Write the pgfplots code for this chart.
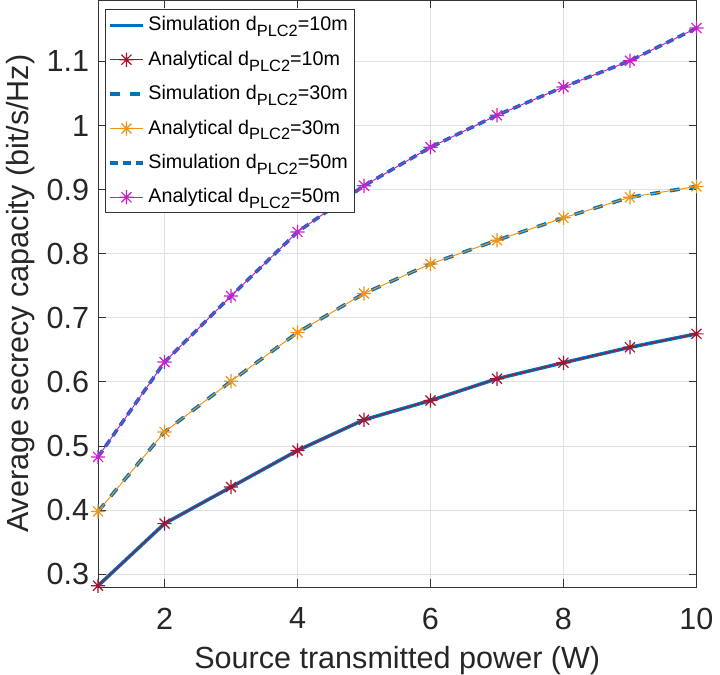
\documentclass[border=0pt]{standalone}
\usepackage{pgfplots}
\pgfplotsset{compat=1.18}
\usepackage{fontspec}
\setmainfont{Liberation Sans}
\definecolor{mblue}{rgb}{0,0.447,0.741}
\definecolor{mred}{rgb}{0.635,0.078,0.184}
\definecolor{morange}{rgb}{0.93,0.58,0.10}
\definecolor{mmag}{rgb}{0.80,0.12,0.80}
\newcommand{\dsub}{d\raisebox{-0.55ex}{\fontsize{8.3}{10}\selectfont PLC2}}
\pgfdeclareplotmark{mstar}{%
  \pgfpathmoveto{\pgfqpoint{-\pgfplotmarksize}{0pt}}%
  \pgfpathlineto{\pgfqpoint{\pgfplotmarksize}{0pt}}%
  \pgfpathmoveto{\pgfqpoint{0pt}{-\pgfplotmarksize}}%
  \pgfpathlineto{\pgfqpoint{0pt}{\pgfplotmarksize}}%
  \pgfpathmoveto{\pgfqpoint{-0.7071\pgfplotmarksize}{-0.7071\pgfplotmarksize}}%
  \pgfpathlineto{\pgfqpoint{0.7071\pgfplotmarksize}{0.7071\pgfplotmarksize}}%
  \pgfpathmoveto{\pgfqpoint{-0.7071\pgfplotmarksize}{0.7071\pgfplotmarksize}}%
  \pgfpathlineto{\pgfqpoint{0.7071\pgfplotmarksize}{-0.7071\pgfplotmarksize}}%
  \pgfusepathqstroke}
\pgfplotstableread{
x a b c
1 0.282 0.398 0.483
2 0.379 0.522 0.631
3 0.436 0.601 0.734
4 0.493 0.677 0.834
5 0.541 0.738 0.906
6 0.571 0.784 0.966
7 0.605 0.821 1.016
8 0.630 0.856 1.060
9 0.654 0.888 1.101
10 0.675 0.905 1.152
}\data
\begin{document}
\begin{tikzpicture}
\begin{axis}[
  scale only axis,
  width=303.5pt, height=297.5pt,
  xmin=1, xmax=10, ymin=0.28, ymax=1.195,
  xtick={2,4,6,8,10},
  ytick={0.3,0.4,0.5,0.6,0.7,0.8,0.9,1,1.1},
  yticklabels={0.3,0.4,0.5,0.6,0.7,0.8,0.9,1,1.1},
  tick align=inside,
  major tick length=4pt,
  tick style={black!80, line width=0.5pt},
  axis line style={black!80, line width=0.5pt},
  grid=major,
  grid style={black!12, line width=0.5pt},
  /pgf/number format/assume math mode=true,
  tick label style={font=\fontsize{15.5}{18}\selectfont, text=black!85},
  xticklabel style={yshift=-7pt},
  yticklabel style={xshift=-1pt},
  xlabel={Source transmitted power (W)},
  ylabel={Average secrecy capacity (bit/s/Hz)},
  label style={font=\fontsize{15.5}{18}\selectfont, text=black!85},
  xlabel style={inner sep=0pt, yshift=-5pt},
  ylabel style={yshift=-1pt},
  legend style={at={(0.0115,0.985)}, anchor=north west, font=\fontsize{10}{12}\selectfont,
    draw=black!80, line width=0.5pt, inner sep=1.5pt, row sep=4.7pt,
    cells={anchor=west}},
  legend cell align=left,
  legend image code/.code={\draw[#1] (0pt,0pt) -- (16.5pt,0pt);
     \draw[#1, solid] plot coordinates {(8.25pt,0pt)};},
]
\addplot[mblue, line width=1.8pt, solid] table[x=x,y=a]{\data};
\addlegendentry{Simulation \dsub=10m}
\addplot[mred, line width=0.5pt, mark=mstar, mark size=3.6pt, mark options={line width=0.6pt}] table[x=x,y=a]{\data};
\addlegendentry{Analytical \dsub=10m}
\addplot[mblue, line width=1.8pt, dash pattern=on 5pt off 5pt] table[x=x,y=b]{\data};
\addlegendentry{Simulation \dsub=30m}
\addplot[morange, line width=0.5pt, mark=mstar, mark size=3.6pt, mark options={line width=0.6pt}] table[x=x,y=b]{\data};
\addlegendentry{Analytical \dsub=30m}
\addplot[mblue, line width=1.8pt, dash pattern=on 4pt off 2.5pt] table[x=x,y=c]{\data};
\addlegendentry{Simulation \dsub=50m}
\addplot[mmag, line width=0.5pt, mark=mstar, mark size=3.6pt, mark options={line width=0.6pt}] table[x=x,y=c]{\data};
\addlegendentry{Analytical \dsub=50m}
\end{axis}
\end{tikzpicture}
\end{document}
